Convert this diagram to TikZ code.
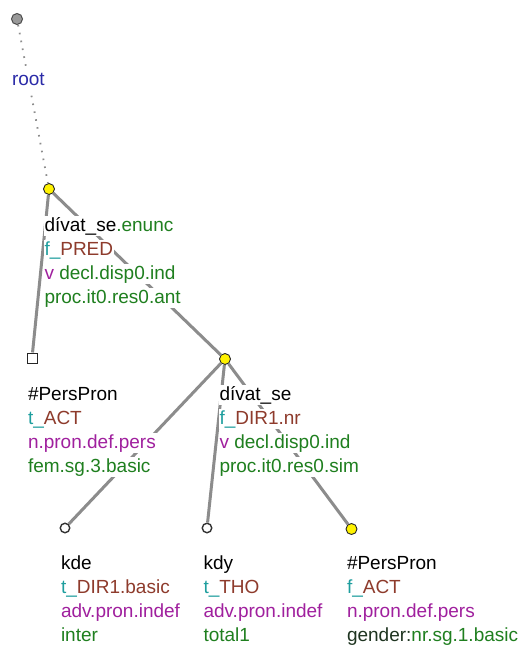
\documentclass[tikz,border=0pt]{standalone}
\usepackage{fontspec}
\setmainfont{Liberation Sans}
\usepackage{tikz}
\usetikzlibrary{positioning}
\definecolor{prefcol}{HTML}{1E9E9E}
\definecolor{functcol}{HTML}{8E3B2C}
\definecolor{semcol}{HTML}{A0209E}
\definecolor{gramcol}{HTML}{1F7F1F}
\definecolor{darkgram}{HTML}{1E3420}
\definecolor{rootcol}{HTML}{2B2BA8}
\definecolor{edgecol}{HTML}{8C8C8C}
\setlength{\fboxsep}{0.8pt}
\newcommand{\tline}[1]{\colorbox{white}{#1}}

\begin{document}
\begin{tikzpicture}[x=1pt, y=-1pt,
  yellownd/.style={circle, draw=black!85, fill=yellow, line width=0.9pt,
    inner sep=0pt, minimum size=11pt},
  opennd/.style={circle, draw=black!80, fill=white, line width=1.4pt,
    inner sep=0pt, minimum size=9.5pt},
  boxnd/.style={rectangle, draw=black!85, fill=white, line width=1pt,
    inner sep=0pt, minimum size=10pt},
  rootnd/.style={circle, draw=black!70, fill=black!40, line width=1pt,
    inner sep=0pt, minimum size=11pt},
  edge/.style={draw=edgecol, line width=3pt},
  lbl/.style={align=left, inner sep=0pt,
    font=\fontsize{19}{24}\selectfont},
]
  \fill[white] (0,0) rectangle (522,645);
  \useasboundingbox (0,0) rectangle (522,645);

  % tree nodes
  \node[rootnd] (root) at (17,19) {};
  \node[yellownd] (enunc) at (49,189) {};
  \node[boxnd] (actbox) at (32,358) {};
  \node[yellownd] (dirone) at (225,359) {};
  \node[opennd] (kde) at (65,528) {};
  \node[opennd] (kdy) at (207,528) {};
  \node[yellownd] (actpp) at (351.5,529) {};

  % edges
  \draw[draw=edgecol, line width=1.8pt, dash pattern=on 1.6pt off 6.4pt]
    (root) -- node[pos=0.345, fill=white, inner sep=4pt, text=rootcol,
      font=\fontsize{19}{24}\selectfont] (rootlbl) {root} (enunc);
  \draw[edge] (enunc) -- (actbox);
  \draw[edge] (enunc) -- (dirone);
  \draw[edge] (dirone) -- (kde);
  \draw[edge] (dirone) -- (kdy);
  \draw[edge] (dirone) -- (actpp);

  % labels (base = last line, 3 x 24pt below the first one)
  \node[lbl, below right=114pt and -5.5pt of enunc.center, anchor=base west] (enuncL)
    {\tline{dívat\_se\textcolor{gramcol}{.enunc}}\\
     \tline{\textcolor{prefcol}{f\_}\textcolor{functcol}{PRED}}\\
     \tline{\textcolor{semcol}{v} \textcolor{gramcol}{decl.disp0.ind}}\\
     \tline{\textcolor{gramcol}{proc.it0.res0.ant}}};
  \node[lbl, below right=114pt and -5pt of actbox.center, anchor=base west] (actboxL)
    {\tline{\#PersPron}\\
     \tline{\textcolor{prefcol}{t\_}\textcolor{functcol}{ACT}}\\
     \tline{\textcolor{semcol}{n.pron.def.pers}}\\
     \tline{\textcolor{gramcol}{fem.sg.3.basic}}};
  \node[lbl, below right=113pt and -6.5pt of dirone.center, anchor=base west] (dironeL)
    {\tline{dívat\_se}\\
     \tline{\textcolor{prefcol}{f\_}\textcolor{functcol}{DIR1.nr}}\\
     \tline{\textcolor{semcol}{v} \textcolor{gramcol}{decl.disp0.ind}}\\
     \tline{\textcolor{gramcol}{proc.it0.res0.sim}}};
  \node[lbl, below right=113pt and -5pt of kde.center, anchor=base west] (kdeL)
    {\tline{kde}\\
     \tline{\textcolor{prefcol}{t\_}\textcolor{functcol}{DIR1.basic}}\\
     \tline{\textcolor{semcol}{adv.pron.indef}}\\
     \tline{\textcolor{gramcol}{inter}}};
  \node[lbl, below right=113pt and -4.5pt of kdy.center, anchor=base west] (kdyL)
    {\tline{kdy}\\
     \tline{\textcolor{prefcol}{t\_}\textcolor{functcol}{THO}}\\
     \tline{\textcolor{semcol}{adv.pron.indef}}\\
     \tline{\textcolor{gramcol}{total1}}};
  \node[lbl, below right=112pt and -5.5pt of actpp.center, anchor=base west] (actppL)
    {\tline{\#PersPron}\\
     \tline{\textcolor{prefcol}{f\_}\textcolor{functcol}{ACT}}\\
     \tline{\textcolor{semcol}{n.pron.def.pers}}\\
     \tline{\textcolor{darkgram}{gender:}\textcolor{gramcol}{nr.sg.1.basic}}};
\end{tikzpicture}
\end{document}
